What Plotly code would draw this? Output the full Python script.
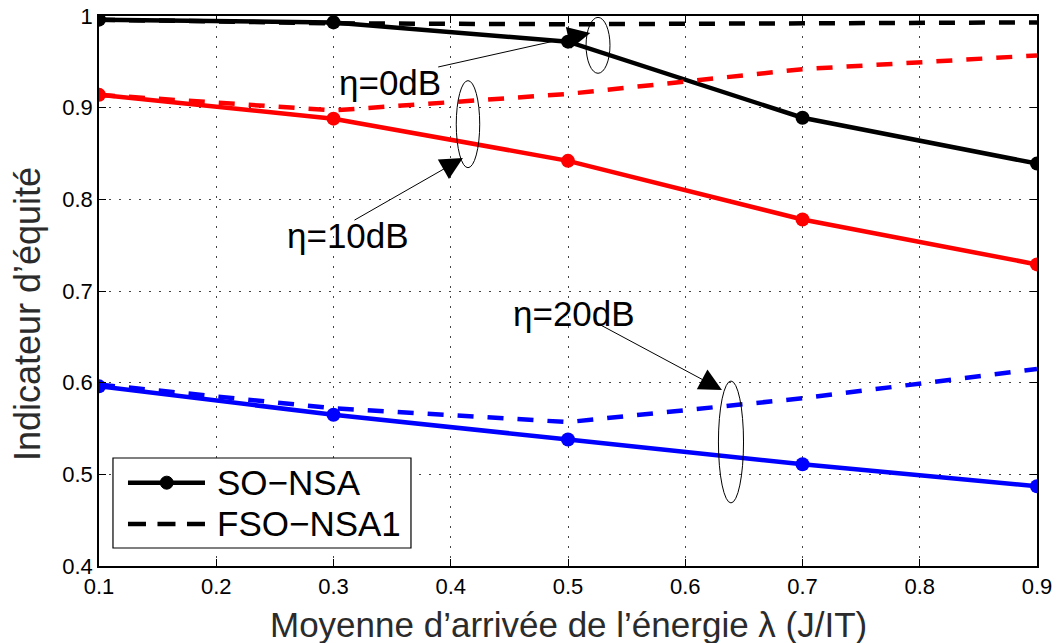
import plotly.graph_objects as go

x_vals = [0.1, 0.3, 0.5, 0.7, 0.9]
so_nsa_0db = [0.996, 0.993, 0.972, 0.889, 0.839]
fso_nsa1_0db = [0.996, 0.992, 0.991, 0.992, 0.993]
so_nsa_10db = [0.914, 0.888, 0.842, 0.778, 0.729]
fso_nsa1_10db = [0.914, 0.897, 0.915, 0.942, 0.957]
so_nsa_20db = [0.596, 0.565, 0.538, 0.511, 0.487]
fso_nsa1_20db = [0.598, 0.572, 0.557, 0.583, 0.615]

x_ticks = [0.1, 0.2, 0.3, 0.4, 0.5, 0.6, 0.7, 0.8, 0.9]
y_ticks = [0.4, 0.5, 0.6, 0.7, 0.8, 0.9, 1.0]
y_tick_labels = ["0.4", "0.5", "0.6", "0.7", "0.8", "0.9", "1"]

labels = ["η=0dB", "η=10dB", "η=20dB"]
legend_names = ["SO−NSA", "FSO−NSA1"]

FONT = "Liberation Sans, Arial, sans-serif"
LW = 4.5
MS = 14
DASH = "16px,14px"

fig = go.Figure()

series = [
    (fso_nsa1_0db, so_nsa_0db, "black"),
    (fso_nsa1_10db, so_nsa_10db, "#ff0000"),
    (fso_nsa1_20db, so_nsa_20db, "#0000ff"),
]
for dashed, solid, col in series:
    fig.add_trace(go.Scatter(x=x_vals, y=dashed, mode="lines",
                             line=dict(color=col, width=LW, dash=DASH),
                             showlegend=False, name=legend_names[1]))
    fig.add_trace(go.Scatter(x=x_vals, y=solid, mode="lines+markers",
                             line=dict(color=col, width=LW),
                             marker=dict(size=MS, color=col),
                             showlegend=False, name=legend_names[0]))

# ellipses
ellipses = [
    (0.5256, 0.0102, 0.968, 0.0305),
    (0.4147, 0.0100, 0.882, 0.0475),
    (0.6390, 0.0107, 0.5353, 0.0665),
]
for cx, hw, cy, hh in ellipses:
    fig.add_shape(type="circle", xref="x", yref="y",
                  x0=cx - hw, x1=cx + hw, y0=cy - hh, y1=cy + hh,
                  line=dict(color="black", width=1))

# arrows (tail -> head)
arrows = [
    ((0.388, 0.944), (0.519, 0.9815)),
    ((0.3166, 0.7764), (0.4104, 0.845)),
    ((0.523, 0.6662), (0.6313, 0.592)),
]
for (tx, ty), (hx, hy) in arrows:
    fig.add_annotation(x=hx, y=hy, ax=tx, ay=ty, xref="x", yref="y",
                       axref="x", ayref="y", text="", showarrow=True,
                       arrowhead=2, arrowsize=4.5, arrowwidth=1, arrowcolor="black")

# text labels
text_pos = [(0.3486, 0.927), (0.3124, 0.761), (0.505, 0.676)]
for (tx, ty), lab in zip(text_pos, labels):
    fig.add_annotation(x=tx, y=ty, xref="x", yref="y", text=lab, showarrow=False,
                       font=dict(family=FONT, size=35, color="black"))

# legend box (drawn manually to match the reference layout)
fig.add_shape(type="rect", xref="paper", yref="paper",
              x0=0.0149, x1=0.3326, y0=0.0327, y1=0.1964,
              line=dict(color="black", width=1.2), fillcolor="white", layer="above")
rows = [0.1515, 0.0764]
fig.add_shape(type="line", xref="paper", yref="paper", x0=0.0309, x1=0.1130,
              y0=rows[0], y1=rows[0], line=dict(color="black", width=LW), layer="above")
fig.add_shape(type="circle", xref="paper", yref="paper",
              x0=0.0722 - 6.5 / 938, x1=0.0722 + 6.5 / 938,
              y0=rows[0] - 6.5 / 550, y1=rows[0] + 6.5 / 550,
              line=dict(color="black", width=1), fillcolor="black", layer="above")
fig.add_shape(type="line", xref="paper", yref="paper", x0=0.0309, x1=0.1130,
              y0=rows[1], y1=rows[1], line=dict(color="black", width=LW, dash="18px,11.5px"),
              layer="above")
for ry, nm in zip(rows, legend_names):
    fig.add_annotation(x=0.1237, y=ry, xref="paper", yref="paper", text=nm,
                       showarrow=False, xanchor="left", yanchor="middle",
                       font=dict(family=FONT, size=35, color="black"))

# axis titles
fig.add_annotation(x=0.5, y=-0.107, xref="paper", yref="paper",
                   text="Moyenne d’arrivée de l’énergie λ (J/IT)", showarrow=False,
                   xanchor="center", yanchor="middle",
                   font=dict(family=FONT, size=35, color="#2b2b2b"))
fig.add_annotation(x=-0.0768, y=0.458, xref="paper", yref="paper",
                   text="Indicateur d’équité", showarrow=False, textangle=-90,
                   xanchor="center", yanchor="middle",
                   font=dict(family=FONT, size=36, color="#2b2b2b"))

axis_common = dict(
    showline=True, linecolor="black", linewidth=1.5, mirror="ticks",
    ticks="inside", ticklen=7, tickcolor="black", automargin=False,
    showgrid=True, gridcolor="#444444", griddash="2px,8px", gridwidth=1,
    zeroline=False, tickfont=dict(family=FONT, size=22, color="black"),
)

fig.update_xaxes(range=[0.1, 0.9], tickvals=x_ticks,
                 ticktext=[f"{v:.1f}" for v in x_ticks], **axis_common)
fig.update_yaxes(range=[0.4, 1.0], tickvals=y_ticks, ticktext=y_tick_labels,
                 **axis_common)

fig.update_layout(
    width=1058, height=643,
    margin=dict(l=99, r=21, t=16, b=77),
    plot_bgcolor="white", paper_bgcolor="white",
    showlegend=False,
)

fig.write_html("out.html", config={"displayModeBar": False},
               post_script="document.body.style.margin='0';")
